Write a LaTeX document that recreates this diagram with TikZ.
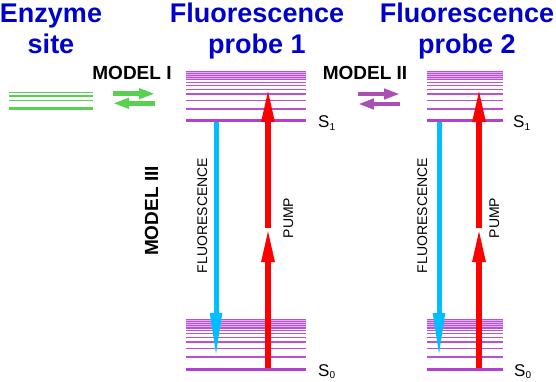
\documentclass[tikz,border=0pt]{standalone}
\usepackage{fontspec}
\setmainfont{Liberation Sans}
\usepackage{xcolor}
\usepackage{tikz}
\usetikzlibrary{arrows.meta,positioning,calc}
\definecolor{titleblue} {RGB}{0,0,204}
\definecolor{levpurple} {RGB}{180,64,208}
\definecolor{vibpurple} {RGB}{186,80,212}
\definecolor{enzgreen}  {RGB}{88,208,80}
\definecolor{xferpurple}{RGB}{170,80,180}
\definecolor{fluocyan}  {RGB}{0,190,255}
\newcommand{\slev}[1]{S\raisebox{-2.5pt}{\fontsize{10}{12}\selectfont #1}}
\tikzset{
  titlebox/.style={align=center, inner sep=0pt, text=titleblue,
                   font=\bfseries\fontsize{27}{31}\selectfont},
  modelbox/.style={inner sep=0pt, font=\bfseries\fontsize{19}{22}\selectfont},
  tagbox/.style  ={inner sep=0pt, rotate=90, anchor=base,
                   font=\fontsize{14}{16}\selectfont},
  slabel/.style  ={inner sep=0pt, anchor=base west,
                   font=\fontsize{17}{20}\selectfont},
  sline/.style   ={levpurple, line width=3pt},
  vline/.style   ={vibpurple, line width=1.4pt},
  vhaze/.style   ={fill=vibpurple!45},
  eline/.style   ={enzgreen, line width=1.5pt},
  pumparr/.style ={red, line width=5.5pt, -{Triangle[length=34pt, width=12pt]}},
  fluoarr/.style ={fluocyan, line width=5pt, -{Triangle[length=45pt, width=11pt]}},
  xferarr/.style ={line width=4.5pt, -{Triangle[length=16pt, width=10pt]}},
}

\begin{document}
\begin{tikzpicture}[x=1pt,y=-1pt]
  \useasboundingbox (0,0) rectangle (556,382);
  % titles
  \node[titlebox, anchor=north] (enz) at (51,3.5) {Enzyme\\site};
  \node[titlebox, anchor=north] (pr1) at (257,3) {Fluorescence\\probe 1};
  \node[titlebox, anchor=north] (pr2) at (467,3) {Fluorescence\\probe 2};
  % enzyme site levels
  \foreach \y in {92.7,96,100.7} \draw[eline] (9,\y) -- (93,\y);
  \draw[eline, line width=3pt] (9,108.3) -- (93,108.3);
  % probe levels
  \foreach \xa/\xb/\n in {186/306/1, 427/503/2} {
    \coordinate (s0a\n) at (\xa,369);
    \coordinate (s0b\n) at (\xb,369);
    \coordinate (s1a\n) at (\xa,121);
    \coordinate (s1b\n) at (\xb,121);
    \path[vhaze] ($(s0a\n)+(0,-40.5)$) rectangle ($(s0b\n)+(0,-50.2)$);
    \path[vhaze] ($(s1a\n)+(0,-40.5)$) rectangle ($(s1b\n)+(0,-50.2)$);
    \foreach \off in {12,20.5,27,31.5,35.3,38.7,41.2,43.5,45.5,47.5,49.5} {
      \draw[vline] ($(s0a\n)+(0,-\off)$) -- ($(s0b\n)+(0,-\off)$);
      \draw[vline] ($(s1a\n)+(0,-\off)$) -- ($(s1b\n)+(0,-\off)$);
    }
    \draw[sline] (s0a\n) -- (s0b\n);
    \draw[sline] (s1a\n) -- (s1b\n);
  }
  \node[slabel] (s1l1) at (318,128) {\slev{1}};
  \node[slabel] (s0l1) at (318,376) {\slev{0}};
  \node[slabel] (s1l2) at (513,128) {\slev{1}};
  \node[slabel] (s0l2) at (514,376) {\slev{0}};
  % transitions
  \foreach \xf/\xp/\n in {216/268/1, 439/479/2} {
    \coordinate (fltop\n) at (\xf,122.5);
    \coordinate (fltip\n) at (\xf,358);
    \coordinate (pubot\n) at (\xp,368);
    \coordinate (pumid\n) at (\xp,228);
    \coordinate (putip\n) at (\xp,88);
    \draw[fluoarr] (fltop\n) -- (fltip\n);
    \draw[pumparr] (pubot\n) -- (pumid\n);
    \draw[pumparr] (pumid\n) -- (putip\n);
  }
  \node[tagbox] (fl1) at (207,215.5) {FLUORESCENCE};
  \node[tagbox] (fl2) at (427,215.5) {FLUORESCENCE};
  \node[tagbox] (pu1) at (293,218) {PUMP};
  \node[tagbox] (pu2) at (499,218) {PUMP};
  % energy transfer between sites
  \coordinate (m1a) at (113,93.7);
  \coordinate (m1b) at (155,93.7);
  \coordinate (m1c) at (113,103.3);
  \coordinate (m1d) at (155,103.3);
  \draw[xferarr, enzgreen] (m1a) -- (m1b);
  \draw[xferarr, enzgreen] (m1d) -- (m1c);
  \coordinate (m2a) at (358,94);
  \coordinate (m2b) at (400,94);
  \coordinate (m2c) at (358,104);
  \coordinate (m2d) at (400,104);
  \draw[xferarr, xferpurple] (m2a) -- (m2b);
  \draw[xferarr, xferpurple] (m2d) -- (m2c);
  \node[modelbox, anchor=base] (mod1) at (132,80) {MODEL I};
  \node[modelbox, anchor=base] (mod2) at (365,80) {MODEL II};
  \node[modelbox, anchor=base, rotate=90] (mod3) at (158,211) {MODEL III};
\end{tikzpicture}
\end{document}
